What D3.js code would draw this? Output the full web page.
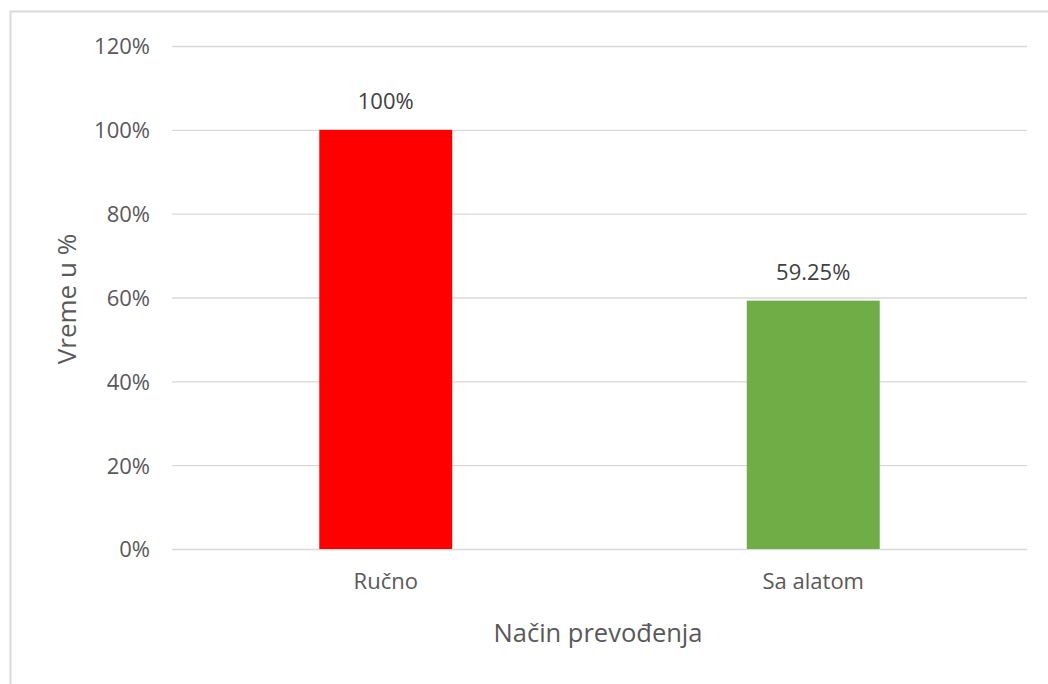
<!DOCTYPE html>
<html>
<head>
<meta charset="utf-8">
<script src="https://cdn.jsdelivr.net/npm/d3@7"></script>
<style>
  body { margin: 0; background: #fff; }
  svg { display: block; font-family: "Open Sans", sans-serif; }
</style>
</head>
<body>
<div id="chart"></div>
<script>
// Data
const categories = ["Ručno", "Sa alatom"];
const values = [100, 59.25];
const valueLabels = ["100%", "59.25%"];
const barColors = ["#ff0000", "#70ad47"];
const yTicks = [0, 20, 40, 60, 80, 100, 120];

// Layout
const width = 1048, height = 684;
const plot = { left: 172, right: 1027, top: 46, bottom: 549 };
const font = "'Open Sans', sans-serif";

const svg = d3.select("#chart")
  .append("svg")
  .attr("width", width)
  .attr("height", height);

// chart frame
svg.append("rect")
  .attr("x", 10.5).attr("y", 11.5)
  .attr("width", 1060).attr("height", 700)
  .attr("fill", "#fff")
  .attr("stroke", "#d9d9d9")
  .attr("stroke-width", 2);

const x = d3.scaleBand()
  .domain(categories)
  .range([plot.left, plot.right])
  .paddingInner(0.689)
  .paddingOuter(0.689 / 2);

const y = d3.scaleLinear()
  .domain([0, 120])
  .range([plot.bottom, plot.top]);

// gridlines + y labels
const yAxis = svg.append("g")
  .attr("transform", `translate(${plot.left},0)`)
  .call(d3.axisLeft(y)
    .tickValues(yTicks)
    .tickSize(-(plot.right - plot.left))
    .tickPadding(22)
    .tickFormat(d => d + "%"))
  .attr("font-family", font)
  .attr("font-size", 22);
yAxis.select(".domain").remove();
yAxis.selectAll(".tick line").attr("stroke", "#d9d9d9").attr("stroke-width", 1.3);
yAxis.selectAll(".tick text")
  .attr("fill", "#595959")
  .attr("dy", "0.36em");

// bars
svg.selectAll(".bar")
  .data(values)
  .join("rect")
  .attr("class", "bar")
  .attr("x", (d, i) => x(categories[i]))
  .attr("y", d => y(d))
  .attr("width", x.bandwidth())
  .attr("height", d => y(0) - y(d))
  .attr("fill", (d, i) => barColors[i]);

// value labels
svg.selectAll(".val")
  .data(values)
  .join("text")
  .attr("class", "val")
  .attr("x", (d, i) => x(categories[i]) + x.bandwidth() / 2)
  .attr("y", d => y(d) - 21)
  .attr("text-anchor", "middle")
  .attr("fill", "#404040")
  .style("font-size", "22px")
  .text((d, i) => valueLabels[i]);

// x labels
const xAxis = svg.append("g")
  .attr("transform", `translate(0,${plot.bottom})`)
  .call(d3.axisBottom(x).tickSize(0).tickPadding(24))
  .attr("font-family", font)
  .attr("font-size", 22);
xAxis.select(".domain").remove();
xAxis.selectAll(".tick text").attr("fill", "#595959");

// axis titles
svg.append("text")
  .attr("x", 598)
  .attr("y", 642)
  .attr("text-anchor", "middle")
  .attr("fill", "#595959")
  .style("font-size", "25.5px")
  .text("Način prevođenja");

svg.append("text")
  .attr("transform", `translate(76,299) rotate(-90)`)
  .attr("text-anchor", "middle")
  .attr("fill", "#595959")
  .style("font-size", "26px")
  .text("Vreme u %");
</script>
</body>
</html>
